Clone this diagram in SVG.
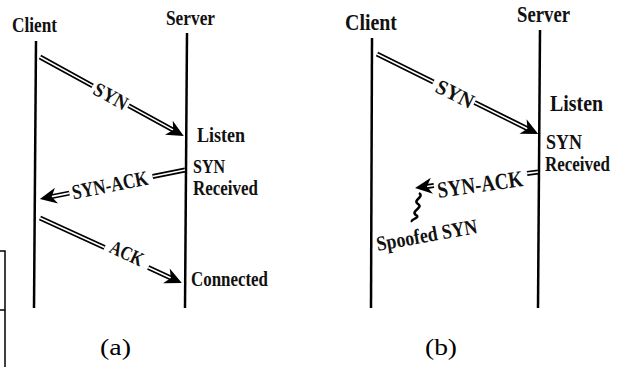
<svg xmlns="http://www.w3.org/2000/svg" width="617" height="367" viewBox="0 0 617 367">
<style>
  .lbl { font-family: "Liberation Serif", "Times New Roman", serif; font-weight: bold; fill: #111; }
  .cap { font-family: "Liberation Serif", "Times New Roman", serif; fill: #000; font-size: 24px; }
  .life { stroke: #000; stroke-width: 2.5; fill: none; }
  .dbl { stroke: #000; stroke-width: 5; fill: none; }
  .dblw { stroke: #fff; stroke-width: 1.6; fill: none; }
  .head { fill: #000; }
  .edge { stroke: #000; stroke-width: 1.5; fill: none; }
</style>
<defs>
  <polygon id="ah" class="head" points="0,0 -17,-8 -12,0 -17,8"/>
</defs>
<rect width="617" height="367" fill="#fff"/>

<path class="edge" d="M0,251 H5 V367 M0,310 H5"/>

<!-- Panel (a) -->
<g id="client-a">
  <line class="life" x1="36" y1="41" x2="34" y2="308"/>
  <text class="lbl" x="12" y="32" font-size="22" textLength="45" lengthAdjust="spacingAndGlyphs">Client</text>
</g>
<g id="server-a">
  <line class="life" x1="187" y1="33" x2="185" y2="308"/>
  <text class="lbl" x="166" y="25" font-size="22" textLength="49" lengthAdjust="spacingAndGlyphs">Server</text>
</g>
<g id="state-listen-a">
  <text class="lbl" x="197" y="142" font-size="22" textLength="48" lengthAdjust="spacingAndGlyphs">Listen</text>
</g>
<g id="state-synrcvd-a">
  <text class="lbl" x="193" y="173" font-size="19" textLength="32" lengthAdjust="spacingAndGlyphs">SYN</text>
  <text class="lbl" x="193" y="195" font-size="20" textLength="65" lengthAdjust="spacingAndGlyphs">Received</text>
</g>
<g id="state-connected-a">
  <text class="lbl" x="191" y="286" font-size="22" textLength="77" lengthAdjust="spacingAndGlyphs">Connected</text>
</g>

<!-- Panel (b) -->
<g id="client-b">
  <line class="life" x1="372" y1="38" x2="371" y2="308"/>
  <text class="lbl" x="345" y="30" font-size="23" textLength="52" lengthAdjust="spacingAndGlyphs">Client</text>
</g>
<g id="server-b">
  <line class="life" x1="540" y1="30" x2="538" y2="308"/>
  <text class="lbl" x="517" y="22" font-size="23" textLength="53" lengthAdjust="spacingAndGlyphs">Server</text>
</g>
<g id="state-listen-b">
  <text class="lbl" x="550" y="111" font-size="23" textLength="53" lengthAdjust="spacingAndGlyphs">Listen</text>
</g>
<g id="state-synrcvd-b">
  <text class="lbl" x="546" y="149" font-size="20" textLength="36" lengthAdjust="spacingAndGlyphs">SYN</text>
  <text class="lbl" transform="translate(545,171) scale(1,1.15)" font-size="18" textLength="65" lengthAdjust="spacingAndGlyphs">Received</text>
</g>

<!-- Connectors -->
<g id="connectors">
  <g id="syn-a" transform="translate(40,57) rotate(28.75)">
    <path class="dbl" d="M0,0 H60 M101,0 H152"/>
    <path class="dblw" d="M0,0 H60 M101,0 H152"/>
    <use href="#ah" transform="translate(164,0)"/>
  </g>
  <g id="synack-a" transform="translate(185,170) rotate(168.7)">
    <path class="dbl" d="M0,0 H33 M118,0 H136"/>
    <path class="dblw" d="M0,0 H33 M118,0 H136"/>
    <use href="#ah" transform="translate(148,0)"/>
  </g>
  <g id="ack-a" transform="translate(40,218) rotate(24.6)">
    <path class="dbl" d="M0,0 H71 M119,0 H144"/>
    <path class="dblw" d="M0,0 H71 M119,0 H144"/>
    <use href="#ah" transform="translate(156,0)"/>
  </g>
  <g id="syn-b" transform="translate(377,54) rotate(26.4)">
    <path class="dbl" d="M0,0 H63 M109,0 H168"/>
    <path class="dblw" d="M0,0 H63 M109,0 H168"/>
    <use href="#ah" transform="translate(180,0)"/>
  </g>
  <g id="synack-b" transform="translate(538,172) rotate(172.6)">
    <path class="dbl" d="M0,0 H11 M105,0 H112"/>
    <path class="dblw" d="M0,0 H11 M105,0 H112"/>
    <use href="#ah" transform="translate(124,0)"/>
  </g>
  <path id="spoof-squiggle" d="M419,193 C425,197 412,200 418,204 C424,208 410,211 416,215 C421,218 410,219 412,222" stroke="#000" stroke-width="2.5" fill="none"/>

  <text class="lbl" font-size="20" text-anchor="middle" textLength="36" lengthAdjust="spacingAndGlyphs" transform="translate(111,96) rotate(28.75)" y="7">SYN</text>
  <text class="lbl" font-size="21" text-anchor="middle" textLength="77" lengthAdjust="spacingAndGlyphs" transform="translate(110,185) rotate(-11.3)" y="7">SYN-ACK</text>
  <text class="lbl" font-size="20" text-anchor="middle" textLength="35" lengthAdjust="spacingAndGlyphs" transform="translate(127,253) rotate(24.6)" y="7">ACK</text>
  <text class="lbl" font-size="21" text-anchor="middle" textLength="40" lengthAdjust="spacingAndGlyphs" transform="translate(455,94) rotate(26.4)" y="7">SYN</text>
  <text class="lbl" font-size="23" text-anchor="middle" textLength="86" lengthAdjust="spacingAndGlyphs" transform="translate(480,184) rotate(-8)" y="8">SYN-ACK</text>
  <text class="lbl" font-size="21" text-anchor="middle" textLength="102" lengthAdjust="spacingAndGlyphs" transform="translate(428,242) rotate(-10.2)">Spoofed SYN</text>
</g>

<text class="cap" x="100" y="355" textLength="31" lengthAdjust="spacingAndGlyphs">(a)</text>
<text class="cap" x="425" y="355" textLength="32" lengthAdjust="spacingAndGlyphs">(b)</text>
</svg>
